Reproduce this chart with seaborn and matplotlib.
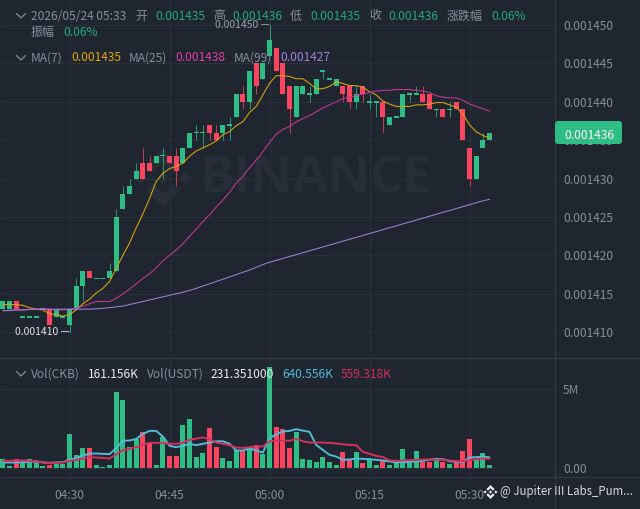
import numpy as np
import pandas as pd
import seaborn as sns
import matplotlib
matplotlib.use('Agg')
import matplotlib.pyplot as plt
from matplotlib.lines import Line2D
from matplotlib.patches import Polygon, FancyBboxPatch

W, H = 640, 509
PRICE_UNIT = 1e-6

# one candle a minute, starting 04:20. prices are in units of 0.000001
opens = [1413,1413,1414,1412,1412,1412,1413,1413,1412,1412,1411,1413,1416,1418,1417,1417,1417,1418,1426,1428,
         1430,1432,1432,1432,1433,1433,1433,1432,1434,1436,1436,1437,1436,1436,1437,1438,1441,1440,1445,1443,
         1446,1447,1445,1442,1438,1441,1441,1441,1444,1443,1442,1442,1442,1440,1442,1440,1440,1440,1437,1438,
         1438,1441,1441,1441,1441,1439,1439,1439,1440,1439,1434,1430,1434,1435]
highs = [1414,1414,1414,1412,1412,1412,1413,1413,1413,1412,1413,1417,1418,1418,1417,1417,1419,1426,1429,1430,
         1432,1434,1433,1433,1434,1433,1434,1434,1436,1437,1437,1437,1437,1437,1438,1441,1442,1444,1445,1445,
         1450,1447,1445,1442,1442,1442,1442,1443,1444,1443,1443,1442,1442,1442,1442,1441,1440,1440,1438,1438,
         1441,1441,1442,1442,1441,1439,1439,1440,1440,1439,1434,1433,1436,1436]
lows = [1413,1413,1413,1412,1412,1412,1413,1411,1412,1412,1410,1413,1414,1417,1417,1417,1417,1418,1426,1428,
        1430,1430,1431,1432,1430,1432,1429,1432,1434,1435,1434,1435,1435,1435,1435,1438,1439,1439,1441,1443,
        1446,1444,1441,1436,1438,1441,1440,1441,1443,1443,1442,1440,1439,1439,1440,1439,1438,1436,1437,1438,
        1438,1440,1441,1440,1439,1438,1438,1438,1439,1435,1429,1430,1434,1435]
closes = [1414,1414,1413,1412,1412,1412,1413,1411,1413,1412,1413,1416,1418,1417,1417,1417,1418,1425,1428,1429,
          1431,1430,1431,1433,1433,1432,1431,1434,1436,1436,1436,1436,1435,1437,1437,1441,1440,1444,1442,1445,
          1448,1444,1441,1439,1442,1442,1441,1443,1444,1443,1443,1441,1440,1441,1441,1440,1440,1438,1438,1438,
          1441,1441,1441,1440,1439,1439,1438,1439,1439,1435,1430,1433,1435,1436]

ma7 = [1413.6,1413.6,1413.6,1413.5,1413.2,1413.0,1412.9,1412.4,1412.3,1412.1,1412.3,1412.9,1413.7,1414.3,1415.1,1415.7,
       1416.6,1418.3,1420.0,1421.6,1423.6,1425.4,1427.4,1429.6,1430.7,1431.3,1431.6,1432.0,1432.9,1433.6,1434.0,1434.4,
       1434.9,1435.7,1436.1,1436.9,1437.4,1438.6,1439.4,1440.9,1442.4,1443.4,1443.4,1443.3,1443.0,1443.0,1442.4,1441.7,
       1441.7,1442.0,1442.6,1442.4,1442.1,1442.1,1441.9,1441.3,1440.9,1440.1,1439.7,1439.4,1439.4,1439.4,1439.6,1439.6,
       1439.7,1439.9,1439.9,1439.6,1439.3,1438.4,1437.0,1436.1,1435.6,1435.3]
ma25 = [1412.8,1412.8,1412.9,1412.9,1413.0,1413.0,1413.0,1413.0,1412.9,1412.9,1413.0,1413.1,1413.4,1413.7,1414.0,1414.0,
        1414.0,1414.4,1415.0,1415.6,1416.3,1417.0,1417.6,1418.4,1419.3,1420.0,1420.7,1421.5,1422.5,1423.4,1424.4,1425.3,
        1426.3,1427.2,1428.2,1429.4,1430.3,1431.4,1432.4,1433.5,1434.7,1435.8,1436.4,1436.8,1437.4,1437.8,1438.2,1438.7,
        1439.2,1439.6,1440.0,1440.4,1440.6,1440.8,1441.0,1441.2,1441.4,1441.5,1441.5,1441.6,1441.6,1441.6,1441.5,1441.4,
        1441.2,1440.8,1440.6,1440.5,1440.5,1440.2,1439.7,1439.4,1439.1,1438.8]
ma99 = [1412.8,1412.85,1412.9,1412.9,1412.95,1413.0,1413.0,1413.0,1413.0,1413.0,1413.0,1413.0,1413.0,1413.0,1413.05,1413.1,
        1413.2,1413.3,1413.4,1413.6,1413.8,1414.0,1414.2,1414.4,1414.6,1414.8,1415.0,1415.2,1415.45,1415.7,1416.0,1416.3,
        1416.6,1416.9,1417.2,1417.5,1417.8,1418.1,1418.45,1418.8,1419.1,1419.35,1419.6,1419.85,1420.1,1420.35,1420.6,1420.85,
        1421.1,1421.35,1421.6,1421.85,1422.1,1422.35,1422.6,1422.85,1423.1,1423.35,1423.6,1423.85,1424.1,1424.35,1424.6,1424.85,
        1425.1,1425.35,1425.6,1425.85,1426.1,1426.35,1426.6,1426.85,1427.1,1427.3]

# volume in thousands
volumes = [550,100,550,320,550,380,100,150,230,230,2160,780,1250,1250,150,60,130,4830,4320,1290,
           1800,2250,1550,130,1950,740,740,2710,3110,700,910,2520,1290,610,400,1120,1080,1250,1420,870,
           6380,2560,2480,1250,2270,570,490,360,640,360,190,980,450,1000,300,490,190,400,130,380,
           1150,320,1060,340,340,450,320,230,380,1040,1800,450,910,161]
vol_ma_a = [320,320,320,340,360,400,320,300,320,340,490,590,760,890,890,870,850,1230,1700,1720,
            1820,2140,2330,2330,1970,1380,1290,1380,1510,1420,1510,1590,1670,1670,1510,1080,1080,1230,1080,950,
            1840,2120,2290,2330,2440,2350,2270,1440,1120,810,700,490,510,570,550,530,490,450,380,340,
            340,360,400,420,490,550,530,400,360,340,640,660,700,640]
vol_ma_b = [420,420,450,450,420,380,320,280,300,320,420,490,570,660,640,610,570,850,1100,1190,
            1290,1460,1570,1570,1550,1510,1510,1590,1760,1840,1910,1800,1590,1510,1420,1270,1250,1290,1340,1340,
            1670,1720,1720,1700,1820,1670,1590,1590,1590,1570,1530,1480,1440,1420,1000,870,740,660,450,420,
            450,470,490,510,510,490,490,450,400,400,470,530,570,559]

price_ticks = [1410, 1415, 1420, 1425, 1430, 1435, 1440, 1445, 1450]
time_ticks = [10, 25, 40, 55, 70]
time_labels = ['04:30', '04:45', '05:00', '05:15', '05:30']

BG = '#1f2630'
GRID = '#2a313c'
BORDER = '#323943'
MUTED = '#848e9c'
UP = '#2ebd85'
DOWN = '#fa4560'

sns.set_theme(style='dark', rc={'axes.facecolor': BG, 'figure.facecolor': BG})
plt.rcParams['font.family'] = ['Noto Sans CJK SC', 'DejaVu Sans']

df = pd.DataFrame({'minute': np.arange(len(closes)), 'open': opens, 'high': highs, 'low': lows, 'close': closes,
                   'ma7': ma7, 'ma25': ma25, 'ma99': ma99,
                   'vol': volumes, 'vol_a': vol_ma_a, 'vol_b': vol_ma_b})
for col in ['open', 'high', 'low', 'close', 'ma7', 'ma25', 'ma99']:
    df[col] = df[col] * PRICE_UNIT
df['side'] = np.where(df['close'] >= df['open'], 'up', 'down')
palette = {'up': UP, 'down': DOWN}


def fx(x):
    return x / W


def fy(y):
    return 1 - y / H


fig = plt.figure(figsize=(W / 100, H / 100), dpi=100, facecolor=BG)
ax = fig.add_axes([0, fy(358), fx(555), 358 / H])
vax = fig.add_axes([0, fy(476.5), fx(555), 118.5 / H])

# minute index <-> pixel: px = 2.83 + 6.667 * i
xlim = (-0.425, 82.82)
for a in (ax, vax):
    a.set_facecolor(BG)
    a.set_axisbelow(True)
    a.grid(True, color=GRID, lw=0.75)
    for s in a.spines.values():
        s.set_visible(False)
    a.yaxis.tick_right()
    a.tick_params(axis='both', length=0, colors=MUTED, labelsize=8.64)
    a.tick_params(axis='y', pad=5.8)

# candles
flat = 0.22 * PRICE_UNIT
body_low = df[['open', 'close']].min(axis=1)
body_h = (df['open'] - df['close']).abs()
is_flat = body_h < flat / 2
colors = df['side'].map(palette)
ax.vlines(df['minute'], df['low'], df['high'], colors=colors, lw=0.7, alpha=0.75, zorder=3)
ax.bar(df['minute'], body_h.where(~is_flat, flat), bottom=body_low.where(~is_flat, body_low - flat / 2),
       width=0.78, color=colors, lw=0, zorder=3)

sns.lineplot(data=df, x='minute', y='ma7', color='#dfa50c', lw=0.75, errorbar=None, ax=ax, zorder=4)
sns.lineplot(data=df, x='minute', y='ma25', color='#c9369a', lw=0.75, errorbar=None, ax=ax, zorder=4)
sns.lineplot(data=df, x='minute', y='ma99', color='#a47ddc', lw=0.75, errorbar=None, ax=ax, zorder=4)

ax.set_xlim(xlim)
ax.set_ylim((1450 - 333 / 7.68) * PRICE_UNIT, (1450 + 25 / 7.68) * PRICE_UNIT)
ax.set_xticks(time_ticks)
ax.set_xticklabels([])
ax.set_yticks([p * PRICE_UNIT for p in price_ticks])
ax.set_yticklabels([f'{p * PRICE_UNIT:.6f}' for p in price_ticks])
ax.set_xlabel('')
ax.set_ylabel('')

# extremes
ax.text(40.05, 1450 * PRICE_UNIT, '0.001450 —', ha='right', va='center', fontsize=7.5, color='#9aa1ab', zorder=5)
ax.text(10.05, 1410 * PRICE_UNIT, '0.001410 —', ha='right', va='center', fontsize=7.5, color='#dfe2e6', zorder=5)

# volume
sns.barplot(data=df, x='minute', y='vol', hue='side', palette=palette, native_scale=True, dodge=False,
            width=0.72, saturation=1, legend=False, linewidth=0, edgecolor='none', ax=vax, zorder=3)
sns.lineplot(data=df, x='minute', y='vol_a', color='#52bad6', lw=1.4, errorbar=None, ax=vax, zorder=4)
sns.lineplot(data=df, x='minute', y='vol_b', color='#d42f5e', lw=1.4, errorbar=None, ax=vax, zorder=4)
vax.set_xlim(xlim)
vax.set_ylim(-9 * 63.53, 109.7 * 63.53)
vax.set_xticks(time_ticks)
vax.set_xticklabels(time_labels)
vax.tick_params(axis='x', pad=9)
vax.set_yticks([0, 5000])
vax.set_yticklabels(['0.00', '5M'])
vax.set_xlabel('')
vax.set_ylabel('')

# frame lines
for y in (358, 476.5):
    fig.add_artist(Line2D([0, 1], [fy(y), fy(y)], color=BORDER, lw=0.8))
fig.add_artist(Line2D([fx(555), fx(555)], [0, 1], color=BORDER, lw=0.8))


def logo(cx, cy, r, color, z, target):
    # Binance mark, drawn in pixels of the figure
    top = [(0, 1), (.59, .41), (.36, .18), (0, .54), (-.36, .18), (-.59, .41)]
    shapes = [top, [(u, -v) for u, v in top]]
    for dx in (-.77, 0, .77):
        shapes.append([(dx, .23), (dx + .23, 0), (dx, -.23), (dx - .23, 0)])
    for pts in shapes:
        xy = [(fx(cx + u * r), fy(cy - v * r)) for u, v in pts]
        target.add_patch(Polygon(xy, closed=True, transform=fig.transFigure, fc=color, ec='none',
                                 zorder=z, clip_on=False))


# watermark
WM = '#282e38'
logo(163, 178, 29, WM, 1, ax)
ax.text(fx(199), fy(179), 'BINANCE', transform=fig.transFigure, fontsize=37, fontweight='bold',
        family='Open Sans', color=WM, ha='left', va='center', zorder=1)

# last price box
box = FancyBboxPatch((fx(558), fy(141)), fx(61), 17 / H, boxstyle=f'round,pad={3 / W},rounding_size={3 / W}',
                     transform=fig.transFigure, fc=UP, ec='none', mutation_aspect=W / H, zorder=10)
fig.add_artist(box)
fig.text(fx(589), fy(135.5), '0.001436', color='white', fontsize=8.64, ha='center', va='center', zorder=11)

# legend rows
GREEN_TXT = '#26a87a'
rows = [
    (16, [(31, '2026/05/24 05:33', MUTED), (135, '开', MUTED), (155, '0.001435', GREEN_TXT),
          (213, '高', MUTED), (232.5, '0.001436', GREEN_TXT), (290, '低', MUTED), (310, '0.001435', GREEN_TXT),
          (369, '收', MUTED), (388.5, '0.001436', GREEN_TXT), (447, '涨跌幅', MUTED), (491, '0.06%', GREEN_TXT)]),
    (32, [(31, '振幅', MUTED), (63, '0.06%', GREEN_TXT)]),
    (58, [(31, 'MA(7)', MUTED), (71, '0.001435', '#e3a60d'), (129, 'MA(25)', MUTED), (175.5, '0.001438', '#e23aa5'),
          (233.5, 'MA(99)', MUTED), (280, '0.001427', '#a47ddc')]),
    (374, [(31, 'Vol(CKB)', MUTED), (88, '161.156K', '#eaecef'), (147, 'Vol(USDT)', MUTED),
           (211, '231.351000', '#eaecef'), (282, '640.556K', '#52bad6'), (341, '559.318K', '#d42f5e')]),
]
for y, items in rows:
    for x, s, c in items:
        fig.text(fx(x), fy(y), s, color=c, fontsize=8.64, ha='left', va='center', zorder=12)

for y in (16, 58, 374):
    fig.add_artist(Line2D([fx(16.5), fx(21), fx(25.5)], [fy(y - 2.5), fy(y + 2), fy(y - 2.5)], color=MUTED, lw=0.9))

# footer
footer = fig.add_axes([0, 0, 1, 1], facecolor='none')
footer.axis('off')
logo(490.5, 492, 7, '#eaecef', 2, footer)
fig.text(fx(500.5), fy(492), '@ Jupiter III Labs_Pum...', color='#d8dbe0', fontsize=8.25, ha='left', va='center')

fig.savefig('out.png', dpi=100, facecolor=BG)
